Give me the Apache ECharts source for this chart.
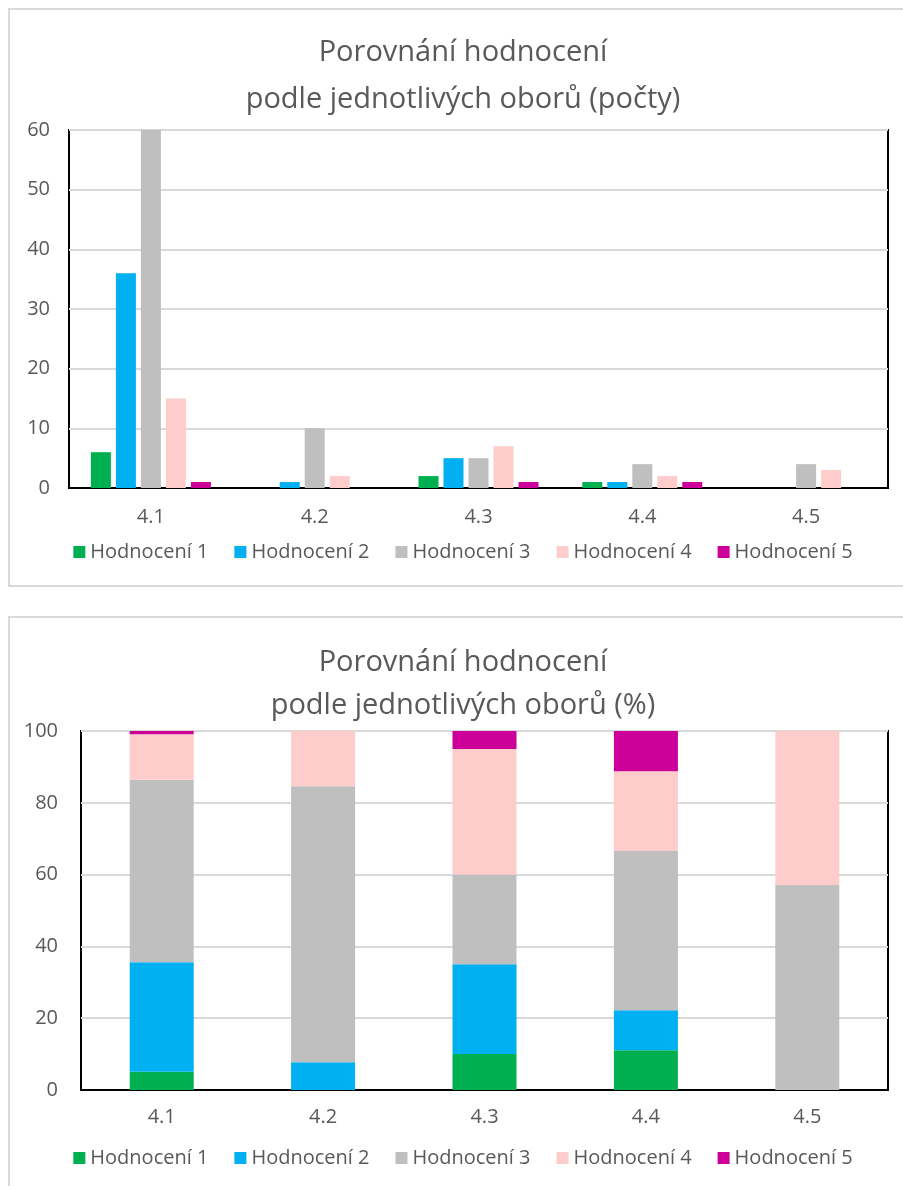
<!DOCTYPE html>
<html>
<head>
<meta charset="utf-8">
<script src="https://cdn.jsdelivr.net/npm/echarts@6/dist/echarts.min.js"></script>
<style>
  html, body { margin: 0; padding: 0; background: #fff; overflow: hidden; }
  #chart { width: 926px; height: 1186px; }
</style>
</head>
<body>
<div id="chart"></div>
<script>
const categories = ["4.1", "4.2", "4.3", "4.4", "4.5"];
const seriesNames = ["Hodnocení 1", "Hodnocení 2", "Hodnocení 3", "Hodnocení 4", "Hodnocení 5"];

// counts (top chart)
const count1 = [6, 0, 2, 1, 0];
const count2 = [36, 1, 5, 1, 0];
const count3 = [60, 10, 5, 4, 4];
const count4 = [15, 2, 7, 2, 3];
const count5 = [1, 0, 1, 1, 0];

// percent (bottom chart)
const pct1 = [5.1, 0, 10, 11.1, 0];
const pct2 = [30.5, 7.7, 25, 11.1, 0];
const pct3 = [50.8, 76.9, 25, 44.4, 57.1];
const pct4 = [12.7, 15.4, 35, 22.2, 42.9];
const pct5 = [0.9, 0, 5, 11.2, 0];

const colors = ["#00B050", "#00B0F0", "#BFBFBF", "#FFCCCC", "#CC0099"];
const FONT = "Open Sans";
const GRAY = "#595959";

const chart = echarts.init(document.getElementById("chart"));

const counts = [count1, count2, count3, count4, count5];
const pcts = [pct1, pct2, pct3, pct4, pct5];

const axisLabel = { color: GRAY, fontSize: 20, fontFamily: FONT };

const series = [];
counts.forEach((d, i) => {
  series.push({
    name: seriesNames[i],
    type: "bar",
    xAxisIndex: 0,
    yAxisIndex: 0,
    data: d,
    barWidth: 20,
    barGap: "25%",
    itemStyle: { color: colors[i] },
  });
});
pcts.forEach((d, i) => {
  series.push({
    name: seriesNames[i],
    type: "bar",
    xAxisIndex: 1,
    yAxisIndex: 1,
    stack: "pct",
    data: d,
    barWidth: 64,
    itemStyle: { color: colors[i] },
  });
});

const legendBase = {
  data: seriesNames,
  left: "center",
  icon: "rect",
  itemWidth: 12,
  itemHeight: 12,
  itemGap: 26,
  textStyle: { color: GRAY, fontSize: 20, fontFamily: FONT },
  selectedMode: false,
};

const titleStyle = { color: GRAY, fontSize: 29, fontWeight: "normal", fontFamily: FONT };

const option = {
  animation: false,
  color: colors,
  graphic: [
    { type: "rect", shape: { x: 9, y: 9, width: 910, height: 577 }, style: { fill: "none", stroke: "#d9d9d9", lineWidth: 2 }, z: -1 },
    { type: "rect", shape: { x: 9, y: 617, width: 910, height: 600 }, style: { fill: "none", stroke: "#d9d9d9", lineWidth: 2 }, z: -1 },
  ],
  title: [
    {
      text: "Porovnání hodnocení\npodle jednotlivých oborů (počty)",
      left: "center",
      top: 24,
      textStyle: Object.assign({ lineHeight: 47 }, titleStyle),
    },
    {
      text: "Porovnání hodnocení\npodle jednotlivých oborů (%)",
      left: "center",
      top: 636,
      textStyle: Object.assign({ lineHeight: 43 }, titleStyle),
    },
  ],
  legend: [
    Object.assign({ top: 537 }, legendBase),
    Object.assign({ top: 1143 }, legendBase),
  ],
  grid: [
    { left: 69, top: 130, width: 819, height: 358, show: true, borderColor: "#000", borderWidth: 2 },
    { left: 81, top: 731, width: 807, height: 359, show: true, borderColor: "#000", borderWidth: 2 },
  ],
  xAxis: [
    {
      type: "category", gridIndex: 0, data: categories,
      axisLine: { lineStyle: { color: "#000", width: 2 } },
      axisTick: { show: false },
      axisLabel: Object.assign({ margin: 19 }, axisLabel),
    },
    {
      type: "category", gridIndex: 1, data: categories,
      axisLine: { lineStyle: { color: "#000", width: 2 } },
      axisTick: { show: false },
      axisLabel: Object.assign({ margin: 17 }, axisLabel),
    },
  ],
  yAxis: [
    {
      type: "value", gridIndex: 0, min: 0, max: 60, interval: 10,
      axisLine: { show: false },
      axisTick: { show: false },
      splitLine: { lineStyle: { color: "#d9d9d9", width: 2 } },
      axisLabel: Object.assign({ margin: 19 }, axisLabel),
    },
    {
      type: "value", gridIndex: 1, min: 0, max: 100, interval: 20,
      axisLine: { show: false },
      axisTick: { show: false },
      splitLine: { lineStyle: { color: "#d9d9d9", width: 2 } },
      axisLabel: Object.assign({ margin: 23 }, axisLabel),
    },
  ],
  series: series,
};

chart.setOption(option);
</script>
</body>
</html>
